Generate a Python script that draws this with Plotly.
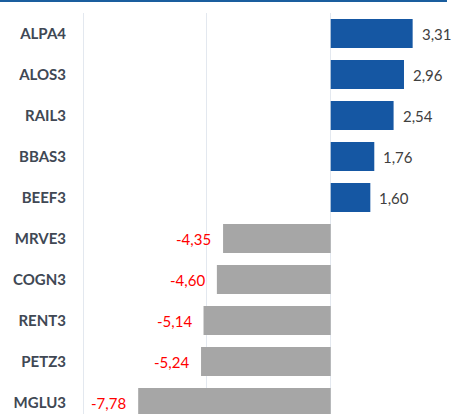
import plotly.graph_objects as go

tickers = ["ALPA4", "ALOS3", "RAIL3", "BBAS3", "BEEF3", "MRVE3", "COGN3", "RENT3", "PETZ3", "MGLU3"]
values = [3.31, 2.96, 2.54, 1.76, 1.60, -4.35, -4.60, -5.14, -5.24, -7.78]

POS_COLOR = "#1557a3"
NEG_COLOR = "#a6a6a6"

colors = [POS_COLOR if v >= 0 else NEG_COLOR for v in values]
labels = [f"{v:.2f}".replace(".", ",") for v in values]

fig = go.Figure()
fig.add_trace(go.Bar(
    x=values, y=tickers, orientation="h",
    marker=dict(color=colors, line=dict(width=0)),
    hoverinfo="skip",
))

for t, v, lab in zip(tickers, values, labels):
    fig.add_annotation(
        x=v, y=t, text=lab, showarrow=False,
        xanchor="left" if v >= 0 else "right",
        xshift=7 if v >= 0 else -10,
        font=dict(family="Lato", size=15, color="#404040" if v >= 0 else "#ff0000"),
    )

# top accent line
fig.add_shape(type="rect", xref="paper", yref="paper",
              x0=-83/369, x1=(447-83)/369, y0=1 + 11/401, y1=1 + 13.5/401,
              fillcolor="#1a5e9e", line=dict(width=0), layer="above")

fig.update_layout(
    width=452, height=414,
    margin=dict(l=82, r=0, t=13, b=0),
    paper_bgcolor="white", plot_bgcolor="white",
    showlegend=False,
    bargap=0.29,
    xaxis=dict(range=[-10.05, 4.9], tickvals=[-10, -5, 0], showticklabels=False,
               showgrid=True, gridcolor="#e3e8ef", gridwidth=1,
               zeroline=True, zerolinecolor="#e3e8ef", zerolinewidth=1, fixedrange=True),
    yaxis=dict(categoryorder="array", categoryarray=tickers,
               range=[9.28, -0.5], showgrid=False, zeroline=False,
               ticks="outside", ticklen=12, tickcolor="rgba(0,0,0,0)",
               tickvals=tickers, ticktext=[f"<b>{t}</b>" for t in tickers],
               tickfont=dict(family="Lato", size=15, color="#404854"),
               fixedrange=True),
)

fig.write_html("out.html")
